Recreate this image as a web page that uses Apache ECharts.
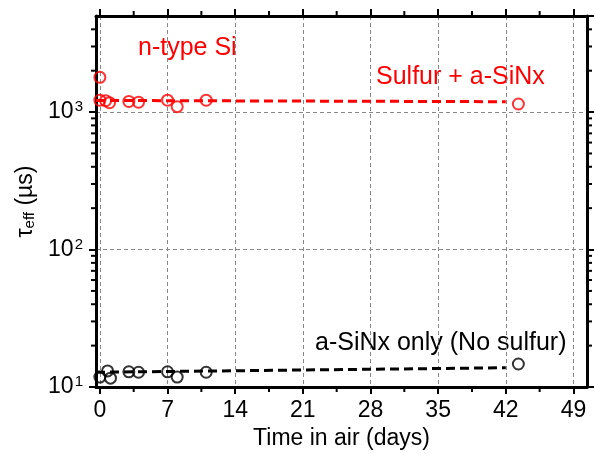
<!DOCTYPE html>
<html>
<head>
<meta charset="utf-8">
<script src="https://cdn.jsdelivr.net/npm/echarts@6/dist/echarts.min.js"></script>
<style>
  html, body { margin: 0; background: #fff; }
  #chart { width: 594px; height: 456px; }
</style>
</head>
<body>
<div id="chart"></div>
<script>
// lifetime vs. time in air
const sulfurDays = [0, 0, 0.6, 1, 3, 4, 7, 8, 11, 43.3]
const sulfurTau = [1790, 1220, 1210, 1170, 1195, 1180, 1220, 1095, 1220, 1145]
const noSulfurDays = [0, 0.8, 1.1, 3, 4, 7, 8, 11, 43.3]
const noSulfurTau = [11.8, 13.1, 11.6, 12.9, 12.8, 12.9, 11.8, 12.8, 14.7]

// dashed guide lines
const fitDays = [-0.4, 42]
const sulfurFit = [1215, 1190]
const noSulfurFit = [12.8, 13.8]

// ticks
const xTicks = [0, 7, 14, 21, 28, 35, 42, 49]
const xMinor = [3.5, 10.5, 17.5, 24.5, 31.5, 38.5, 45.5]
const yMinor = [20, 30, 40, 50, 60, 70, 80, 90, 200, 300, 400, 500, 600, 700, 800, 900, 2000, 3000, 4000]

const xMin = -0.4
const xMax = 50.4
const yMin = 10
const yMax = 5000

const FONT = '"Liberation Sans", Arial, sans-serif'

const zip = (a, b) => a.map((v, i) => [v, b[i]])

const chart = echarts.init(document.getElementById('chart'))

function baseX(pos) {
  return {
    type: 'value',
    position: pos,
    min: xMin,
    max: xMax,
    axisLine: { show: true, onZero: false, lineStyle: { color: '#000', width: 3 } },
    axisTick: { show: true, customValues: xTicks, length: 7, lineStyle: { color: '#000', width: 2 } },
    axisLabel: { show: false },
    splitLine: { show: false }
  }
}

function baseY(pos) {
  return {
    type: 'log',
    logBase: 10,
    position: pos,
    min: yMin,
    max: yMax,
    axisLine: { show: true, onZero: false, lineStyle: { color: '#000', width: 3 } },
    axisTick: { show: true, length: 7, lineStyle: { color: '#000', width: 2 } },
    axisLabel: { show: false },
    splitLine: { show: false }
  }
}

const bottomX = baseX('bottom')
bottomX.axisLabel = {
  show: true,
  customValues: xTicks,
  fontSize: 23,
  fontFamily: FONT,
  color: '#000',
  margin: 12
}
bottomX.splitLine = { show: true, lineStyle: { color: '#888', type: [4, 3], width: 1 } }
bottomX.name = 'Time in air (days)'
bottomX.nameLocation = 'middle'
bottomX.nameGap = 37
bottomX.nameTextStyle = { fontSize: 23, fontFamily: FONT, color: '#000' }

const leftY = baseY('left')
leftY.axisLabel = {
  show: true,
  fontSize: 23,
  fontFamily: FONT,
  color: '#000',
  margin: 13,
  showMaxLabel: false,
  formatter: function (v) {
    const e = Math.log10(v)
    if (Math.abs(e - Math.round(e)) > 1e-6) return ''
    return '10{sup|' + Math.round(e) + '}'
  },
  rich: {
    sup: { fontSize: 15, fontFamily: FONT, color: '#000', verticalAlign: 'top', padding: [0, 0, 10, 1] }
  }
}
leftY.splitLine = { show: true, lineStyle: { color: '#888', type: [4, 3], width: 1 } }
leftY.name = '{t|τ}{sub|eff}{t| (µs)}'
leftY.nameLocation = 'middle'
leftY.nameGap = 58
leftY.nameTextStyle = {
  fontSize: 23,
  fontFamily: FONT,
  color: '#000',
  rich: {
    t: { fontSize: 23, fontFamily: FONT, color: '#000' },
    sub: { fontSize: 15, fontFamily: FONT, color: '#000', verticalAlign: 'bottom', padding: [8, 0, 0, 0] }
  }
}

function minorTicks(params, api) {
  const axis = api.value(0)
  const v = api.value(1)
  const style = { stroke: '#000', lineWidth: 2 }
  if (axis === 0) {
    // y minor ticks on left and right frames
    const l = api.coord([xMin, v])
    const r = api.coord([xMax, v])
    return {
      type: 'group',
      children: [
        { type: 'line', shape: { x1: l[0] - 1, y1: l[1], x2: l[0] - 5, y2: l[1] }, style },
        { type: 'line', shape: { x1: r[0] + 1, y1: r[1], x2: r[0] + 5, y2: r[1] }, style }
      ]
    }
  }
  const b = api.coord([v, yMin])
  const t = api.coord([v, yMax])
  return {
    type: 'group',
    children: [
      { type: 'line', shape: { x1: b[0], y1: b[1] + 1, x2: b[0], y2: b[1] + 5 }, style },
      { type: 'line', shape: { x1: t[0], y1: t[1] - 1, x2: t[0], y2: t[1] - 5 }, style }
    ]
  }
}

const minorData = yMinor.map(v => [0, v]).concat(xMinor.map(v => [1, v]))

const dashStyle = (c) => ({ color: c, width: 3, type: [9, 5] })

chart.setOption({
  animation: false,
  backgroundColor: '#fff',
  grid: { left: 96, right: 7, top: 16, bottom: 69, containLabel: false },
  xAxis: [bottomX, baseX('top')],
  yAxis: [leftY, baseY('right')],
  series: [
    {
      name: 'sulfur fit',
      type: 'line',
      data: zip(fitDays, sulfurFit),
      showSymbol: false,
      symbol: 'none',
      lineStyle: dashStyle('#ff0000'),
      z: 2
    },
    {
      name: 'no sulfur fit',
      type: 'line',
      data: zip(fitDays, noSulfurFit),
      showSymbol: false,
      symbol: 'none',
      lineStyle: dashStyle('#000'),
      z: 2
    },
    {
      name: 'Sulfur + a-SiNx',
      type: 'scatter',
      data: zip(sulfurDays, sulfurTau),
      symbol: 'circle',
      symbolSize: 11,
      itemStyle: { color: 'rgba(0,0,0,0)', borderColor: '#ff0000', borderWidth: 2 },
      z: 3
    },
    {
      name: 'a-SiNx only',
      type: 'scatter',
      data: zip(noSulfurDays, noSulfurTau),
      symbol: 'circle',
      symbolSize: 11,
      itemStyle: { color: 'rgba(0,0,0,0)', borderColor: '#000', borderWidth: 2 },
      z: 3
    },
    {
      name: 'minor ticks',
      type: 'custom',
      data: minorData,
      renderItem: (params, api) => {
        const which = api.value(0)
        const v = api.value(1)
        return minorTicks(params, { value: i => (i === 0 ? which : v), coord: api.coord })
      },
      encode: { x: -1, y: -1 },
      dimensions: ['axis', 'value'],
      silent: true,
      clip: false,
      z: 5
    }
  ],
  graphic: [
    { type: 'text', x: 138, y: 48, style: { text: 'n-type Si', fill: '#ff0000', font: '25px ' + FONT, verticalAlign: 'middle' } },
    { type: 'text', x: 376, y: 77, style: { text: 'Sulfur + a-SiNx', fill: '#ff0000', font: '25px ' + FONT, verticalAlign: 'middle' } },
    { type: 'text', x: 315, y: 343, style: { text: 'a-SiNx only (No sulfur)', fill: '#000', font: '25px ' + FONT, verticalAlign: 'middle' } }
  ]
})
</script>
</body>
</html>
